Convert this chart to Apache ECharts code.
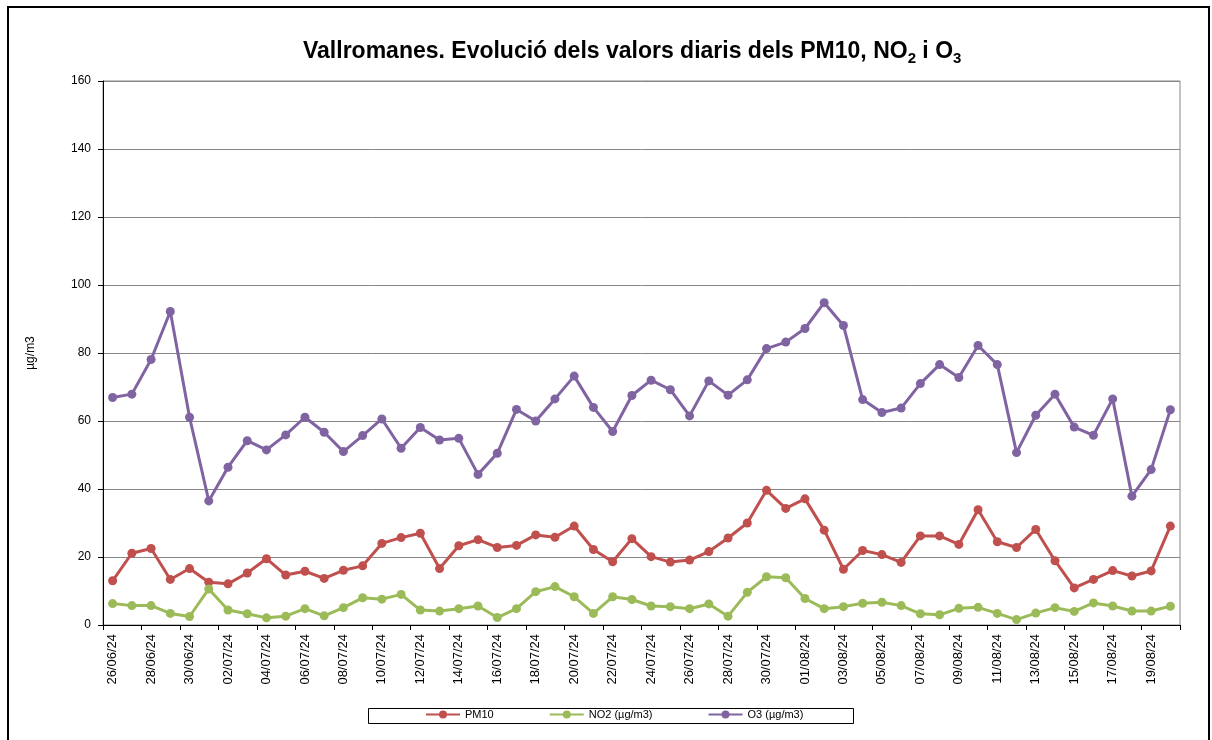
<!DOCTYPE html>
<html>
<head>
<meta charset="utf-8">
<script src="https://cdn.jsdelivr.net/npm/echarts@6/dist/echarts.min.js"></script>
<style>
  html, body { margin: 0; padding: 0; background: #fff; }
  #chart { width: 1212px; height: 740px; }
</style>
</head>
<body>
<div id="chart"></div>
<script>
const dates = [
  '26/06/24', '27/06/24', '28/06/24', '29/06/24', '30/06/24',
  '01/07/24', '02/07/24', '03/07/24', '04/07/24', '05/07/24', '06/07/24', '07/07/24', '08/07/24',
  '09/07/24', '10/07/24', '11/07/24', '12/07/24', '13/07/24', '14/07/24', '15/07/24', '16/07/24',
  '17/07/24', '18/07/24', '19/07/24', '20/07/24', '21/07/24', '22/07/24', '23/07/24', '24/07/24',
  '25/07/24', '26/07/24', '27/07/24', '28/07/24', '29/07/24', '30/07/24', '31/07/24',
  '01/08/24', '02/08/24', '03/08/24', '04/08/24', '05/08/24', '06/08/24', '07/08/24', '08/08/24',
  '09/08/24', '10/08/24', '11/08/24', '12/08/24', '13/08/24', '14/08/24', '15/08/24', '16/08/24',
  '17/08/24', '18/08/24', '19/08/24', '20/08/24'
]

const pm10 = [
  13.0, 21.1, 22.5, 13.4, 16.6, 12.6, 12.1, 15.3, 19.5, 14.7, 15.8, 13.7, 16.1,
  17.4, 24.0, 25.7, 27.0, 16.6, 23.3, 25.1, 22.8, 23.4, 26.5, 25.8, 29.1, 22.2,
  18.6, 25.4, 20.1, 18.5, 19.1, 21.6, 25.6, 30.0, 39.6, 34.3, 37.1, 27.9, 16.4,
  21.9, 20.7, 18.4, 26.2, 26.2, 23.7, 33.9, 24.5, 22.8, 28.1, 18.9, 10.9, 13.4,
  16.0, 14.4, 15.9, 29.1
]

const no2 = [
  6.3, 5.7, 5.7, 3.4, 2.5, 10.6, 4.4, 3.3, 2.1, 2.6, 4.8, 2.7, 5.1,
  8.0, 7.6, 9.0, 4.4, 4.1, 4.8, 5.6, 2.2, 4.8, 9.8, 11.3, 8.3, 3.4,
  8.3, 7.5, 5.6, 5.4, 4.8, 6.2, 2.6, 9.6, 14.2, 13.9, 7.8, 4.8, 5.4,
  6.4, 6.7, 5.7, 3.3, 3.0, 4.9, 5.2, 3.4, 1.6, 3.5, 5.1, 4.0, 6.5,
  5.6, 4.1, 4.1, 5.5
]

const o3 = [
  66.9, 67.9, 78.1, 92.2, 61.1, 36.5, 46.4, 54.2, 51.5, 55.9, 61.1, 56.7, 51.0,
  55.7, 60.6, 52.0, 58.1, 54.4, 54.9, 44.3, 50.5, 63.4, 60.0, 66.5, 73.2, 64.0,
  56.9, 67.5, 72.0, 69.2, 61.5, 71.8, 67.6, 72.1, 81.3, 83.2, 87.2, 94.8, 88.1,
  66.3, 62.5, 63.8, 71.0, 76.6, 72.8, 82.2, 76.6, 50.7, 61.7, 67.9, 58.2, 55.8,
  66.5, 37.9, 45.7, 63.3
]

const seriesNames = ['PM10', 'NO2 (µg/m3)', 'O3 (µg/m3)']
const seriesColors = ['#C0504D', '#9BBB59', '#8064A2']

const font = 'Liberation Sans, Arial, sans-serif'

const chart = echarts.init(document.getElementById('chart'))

function lineSeries(name, data, color) {
  return {
    name: name,
    type: 'line',
    data: data,
    symbol: 'circle',
    symbolSize: 9,
    lineStyle: { color: color, width: 3 },
    itemStyle: { color: color },
    emphasis: { disabled: true },
    animation: false
  }
}

chart.setOption({
  backgroundColor: '#fff',
  title: {
    left: 298,
    top: 33,
    text: '{b|Vallromanes. Evolució dels valors diaris dels PM10, NO}{s|2}{b| i O}{s|3}',
    textStyle: {
      rich: {
        b: { fontFamily: font, fontSize: 23, fontWeight: 'bold', color: '#000', lineHeight: 28 },
        s: { fontFamily: font, fontSize: 15, fontWeight: 'bold', color: '#000', lineHeight: 15, verticalAlign: 'bottom', padding: [12, 0, 0, 0] }
      }
    }
  },
  graphic: [
    {
      type: 'rect',
      shape: { x: 8, y: 7, width: 1201, height: 745 },
      style: { fill: 'none', stroke: '#000', lineWidth: 2 },
      silent: true
    },
    {
      type: 'rect',
      shape: { x: 368.5, y: 708.5, width: 485, height: 15 },
      style: { fill: 'none', stroke: '#000', lineWidth: 1 },
      silent: true
    }
  ],
  legend: {
    left: 425,
    top: 709,
    itemGap: 55,
    itemWidth: 34,
    itemHeight: 10,
    padding: 0,
    data: seriesNames,
    textStyle: { fontFamily: font, fontSize: 11, color: '#000' }
  },
  grid: {
    left: 103,
    right: 32,
    top: 81,
    bottom: 115,
    show: true,
    borderColor: '#868686',
    borderWidth: 1
  },
  xAxis: {
    type: 'category',
    data: dates,
    boundaryGap: true,
    axisLine: { lineStyle: { color: '#000', width: 1 } },
    axisTick: { show: true, interval: 1, length: 5, lineStyle: { color: '#000' } },
    axisLabel: {
      interval: 1,
      rotate: 90,
      fontFamily: font,
      fontSize: 13,
      color: '#000',
      margin: 9
    },
    splitLine: { show: false }
  },
  yAxis: {
    type: 'value',
    min: 0,
    max: 160,
    interval: 20,
    name: 'µg/m3',
    nameLocation: 'middle',
    nameGap: 66,
    nameRotate: 90,
    nameTextStyle: { fontFamily: font, fontSize: 12, color: '#000' },
    axisLine: { show: true, lineStyle: { color: '#000', width: 1 } },
    axisTick: { show: true, length: 5, lineStyle: { color: '#000' } },
    axisLabel: { fontFamily: font, fontSize: 12, color: '#000', margin: 12 },
    splitLine: { show: true, lineStyle: { color: '#868686', width: 1 } }
  },
  series: [
    lineSeries(seriesNames[0], pm10, seriesColors[0]),
    lineSeries(seriesNames[1], no2, seriesColors[1]),
    lineSeries(seriesNames[2], o3, seriesColors[2])
  ]
})
</script>
</body>
</html>
